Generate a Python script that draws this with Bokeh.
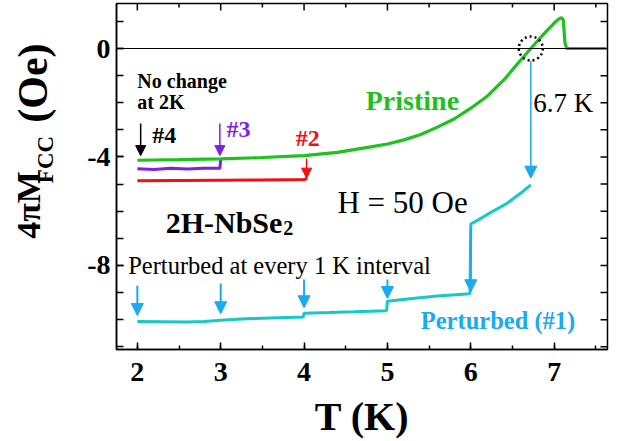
from math import pi
from bokeh.plotting import figure
from bokeh.layouts import row
from bokeh.models import (SingleIntervalTicker, Span, Arrow, NormalHead,
                          Label, Range1d, ColumnDataSource)
from bokeh.core.properties import value
from bokeh.embed import file_html
from bokeh.resources import INLINE

FONT = "Liberation Serif"

# ---------------- data ----------------
t_pristine = [2.0, 2.5, 3.0, 3.5, 4.0, 4.4, 4.8, 5.0, 5.2, 5.4, 5.6, 5.8, 6.0, 6.2, 6.4,
              6.55, 6.72, 6.85, 6.92, 7.02, 7.06, 7.09, 7.11, 7.13, 7.15, 7.3, 7.62]
m_pristine = [-4.12, -4.10, -4.07, -4.02, -3.95, -3.83, -3.63, -3.52, -3.37, -3.17, -2.9,
              -2.6, -2.2, -1.75, -1.15, -0.6, 0.0, 0.45, 0.68, 1.0, 1.1, 1.14, 1.05, 0.2,
              0.0, 0.0, 0.0]

t_p3 = [2.0, 2.2, 2.4, 2.6, 2.8, 2.99, 3.0]
m_p3 = [-4.43, -4.46, -4.42, -4.44, -4.42, -4.42, -4.1]

t_p2 = [2.0, 2.5, 3.0, 3.5, 4.0, 4.04]
m_p2 = [-4.88, -4.87, -4.86, -4.85, -4.83, -4.79]

t_p1 = [2.0, 2.3, 2.6, 2.8, 3.0, 3.3, 3.6, 3.99, 4.0, 4.3, 4.6, 4.99, 5.0, 5.3, 5.6,
        5.99, 6.0, 6.1, 6.25, 6.44, 6.6, 6.72]
m_p1 = [-10.07, -10.08, -10.09, -10.07, -10.02, -9.97, -9.94, -9.9, -9.76, -9.74, -9.71,
        -9.67, -9.32, -9.22, -9.13, -9.04, -6.47, -6.3, -6.03, -5.7, -5.33, -5.03]

# perturbation arrows (#1)
arr1_t = [2.0, 3.0, 4.0, 5.0, 6.0]
arr1_from = [-8.75, -8.67, -8.52, -8.52, -6.6]
arr1_to = [-9.85, -9.78, -9.56, -9.22, -8.97]

# arrows #4, #3, #2
arr4 = (2.04, -2.77, -3.95)
arr3 = (2.99, -2.77, -3.95)
arr2 = (4.03, -4.06, -4.78)
# 6.7 K arrow
t_cross = 6.72
arr67 = (t_cross, -0.45, -4.78)

X_MIN, X_MAX = 1.75, 7.64
Y_MIN, Y_MAX = -11.1, 1.66
x_ticks_major = [2, 3, 4, 5, 6, 7]
x_ticks_minor = [2.5, 3.5, 4.5, 5.5, 6.5, 7.5]
y_ticks_all = [1, 0, -1, -2, -3, -4, -5, -6, -7, -8, -9, -10, -11]
y_tick_labels = {0: "0", -4: "-4", -8: "-8"}

GREEN = "#1ec21e"
PURPLE = "#7f1fe6"
RED = "#f01010"
CYAN = "#16c8c8"
SKY = "#1aaaf0"

SIDE_W = 70
TXT_DY = 0.3  # baseline compensation (Oe)

p = figure(width=623 - SIDE_W, height=441, output_backend="svg", toolbar_location=None,
           x_range=Range1d(X_MIN, X_MAX), y_range=Range1d(Y_MIN, Y_MAX),
           min_border_left=116 - SIDE_W, min_border_right=16, min_border_top=3,
           min_border_bottom=92)
p.background_fill_color = "white"
p.border_fill_color = "white"
p.grid.visible = False
p.outline_line_color = "black"
p.outline_line_width = 1.5

# axes
xa = p.xaxis[0]
xa.ticker = SingleIntervalTicker(interval=1, num_minor_ticks=2)
ya = p.yaxis[0]
ya.ticker = SingleIntervalTicker(interval=4, num_minor_ticks=4)
ya.major_label_overrides = y_tick_labels
for ax in (xa, ya):
    ax.major_tick_in = 7
    ax.major_tick_out = 0
    ax.minor_tick_in = 4
    ax.minor_tick_out = 0
    ax.axis_line_width = 1.5
    ax.major_tick_line_width = 1.5
    ax.minor_tick_line_width = 1.5
    ax.major_label_text_font = FONT
    ax.major_label_text_font_style = "bold"
    ax.major_label_text_font_size = "28px"
    ax.major_label_text_color = "black"
ya.minor_tick_in = 7
xa.major_label_standoff = 13
ya.major_label_standoff = 6
xa.axis_label = "T (K)"
xa.axis_label_text_font = FONT
xa.axis_label_text_font_style = "bold"
xa.axis_label_text_font_size = "40px"
xa.axis_label_text_color = "black"
xa.axis_label_standoff = 10

# mirrored ticks on top and right (half of each dash is clipped by the frame)
p.scatter(x_ticks_major, [Y_MAX] * len(x_ticks_major), marker="dash", size=14, angle=pi / 2,
          line_color="black", line_width=1.5)
p.scatter(x_ticks_minor, [Y_MAX] * len(x_ticks_minor), marker="dash", size=8, angle=pi / 2,
          line_color="black", line_width=1.5)
p.scatter([X_MAX] * len(y_ticks_all), y_ticks_all, marker="dash", size=14,
          line_color="black", line_width=1.5)

p.add_layout(Span(location=0, dimension="width", line_color="black", line_width=1.2))

# curves
p.line(t_p2, m_p2, line_color=RED, line_width=3)
p.line(t_p3, m_p3, line_color=PURPLE, line_width=3)
p.line(t_pristine, m_pristine, line_color=GREEN, line_width=3.2)
p.line(t_p1, m_p1, line_color=CYAN, line_width=3)

# dotted circle at crossing
p.scatter([t_cross], [0.0], marker="circle", size=24, fill_alpha=0, line_color="black",
          line_width=2.5, line_dash="2 3")

# arrows
src1 = ColumnDataSource(dict(x=arr1_t, y0=arr1_from, y1=arr1_to))
p.add_layout(Arrow(source=src1, x_start="x", y_start="y0", x_end="x", y_end="y1",
                   line_color=SKY, line_width=2,
                   end=NormalHead(size=12, fill_color=SKY, line_color=SKY, line_width=1)))
for (ax_, y0, y1), col in ((arr4, "black"), (arr3, PURPLE), (arr2, RED)):
    p.add_layout(Arrow(x_start=ax_, y_start=y0, x_end=ax_, y_end=y1, line_color=col,
                       line_width=1.5,
                       end=NormalHead(size=10, fill_color=col, line_color=col, line_width=1)))
p.add_layout(Arrow(x_start=arr67[0], y_start=arr67[1], x_end=arr67[0], y_end=arr67[2],
                   line_color=SKY, line_width=1.5,
                   end=NormalHead(size=12, fill_color=SKY, line_color=SKY, line_width=1)))


def lab(x, y, text, size, color="black", bold=False):
    p.add_layout(Label(x=x, y=y + TXT_DY, text=text, text_font=FONT, text_font_size=size,
                       text_font_style="bold" if bold else "normal", text_color=color,
                       text_align="left", text_baseline="alphabetic"))


lab(2.0, -1.48, "No change", "20px", bold=True)
lab(2.0, -2.29, "at 2K", "20px", bold=True)
lab(2.18, -3.5, "#4", "24px", bold=True)
lab(3.07, -3.28, "#3", "24px", PURPLE, bold=True)
lab(3.90, -3.6, "#2", "24px", RED, bold=True)
lab(4.74, -2.21, "Pristine", "28px", GREEN, bold=True)
lab(6.75, -2.32, "6.7 K", "27px")
lab(4.40, -5.98, "H = 50 Oe", "31px")
lab(2.34, -6.72, "2H-NbSe", "30px", bold=True)
lab(3.75, -6.92, "2", "20px", bold=True)
lab(1.89, -8.3, "Perturbed at every 1 K interval", "24.5px")
lab(5.40, -10.33, "Perturbed (#1)", "24.5px", SKY, bold=True)

# ---------------- side panel carrying the rotated y-axis title ----------------
side = figure(width=SIDE_W, height=441, output_backend="svg", toolbar_location=None,
              x_range=Range1d(0, SIDE_W), y_range=Range1d(441, 0),
              min_border=0, outline_line_color=None)
side.axis.visible = False
side.grid.visible = False
side.background_fill_color = "white"
side.border_fill_color = "white"
ylab_x = [28, 45, 32]
ylab_y = [300, 229, 152]
ylab_t = ["4\u03c0M", "FCC", "(Oe)"]
ylab_s = ["34px", "23px", "42px"]
for xx, yy, tt, ss in zip(ylab_x, ylab_y, ylab_t, ylab_s):
    side.text(x=[xx], y=[yy], text=[tt], angle=pi / 2, text_font=value(FONT),
              text_font_size=ss, text_font_style="bold", text_color="black",
              text_align="left", text_baseline="alphabetic")

layout = row(side, p, spacing=0)
open("out.html", "w").write(file_html(layout, INLINE))
